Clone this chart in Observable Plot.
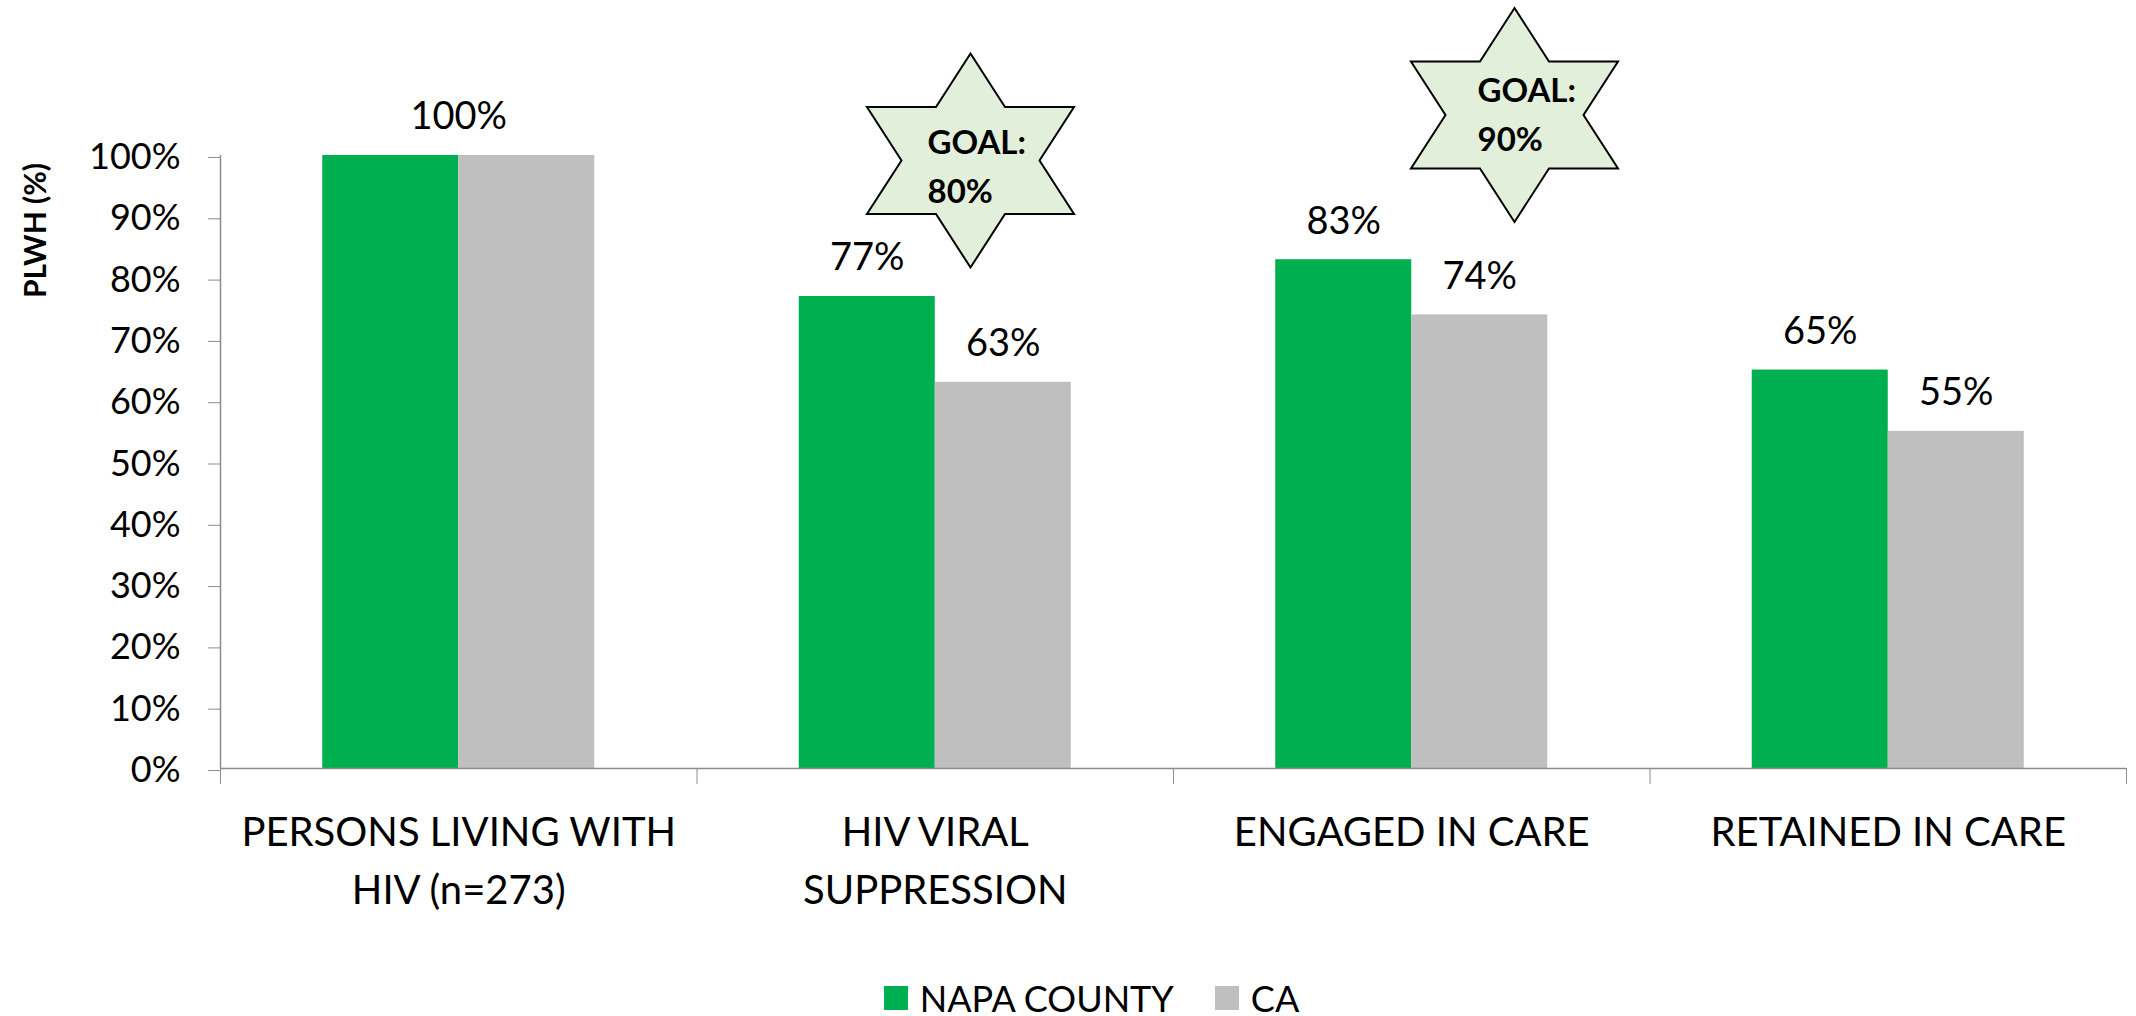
<!DOCTYPE html>
<html>
<head>
<meta charset="utf-8">
<script src="https://cdn.jsdelivr.net/npm/d3@7"></script>
<script src="https://cdn.jsdelivr.net/npm/@observablehq/plot@0.6"></script>
<style>
  html, body { margin: 0; padding: 0; background: #fff; overflow: hidden; }
  body { font-family: Lato, "Open Sans", sans-serif; }
  #legend { display: flex; justify-content: center; align-items: center; height: 36px; line-height: 1; margin-top: 10px; padding-left: 47px; font-size: 36px; color: #000; }
  .item { display: flex; align-items: center; }
  .swatch { width: 24px; height: 24px; margin-right: 12px; }
  .item + .item { margin-left: 41px; }
</style>
</head>
<body>
<div id="chart"></div>
<div id="legend"></div>
<script>
// ---- data ----
const categories = ["PERSONS LIVING WITH HIV (n=273)", "HIV VIRAL SUPPRESSION", "ENGAGED IN CARE", "RETAINED IN CARE"];
const categoryLabels = ["PERSONS LIVING WITH\nHIV (n=273)", "HIV VIRAL\nSUPPRESSION", "ENGAGED IN CARE", "RETAINED IN CARE"];
const napaValues = [100, 77, 83, 65];
const caValues = [100, 63, 74, 55];
const seriesNames = ["NAPA COUNTY", "CA"];
const seriesColors = ["#00B050", "#BFBFBF"];
const goalCategories = ["HIV VIRAL SUPPRESSION", "ENGAGED IN CARE"];
const goalValues = [80, 90];
const yTicks = [0, 10, 20, 30, 40, 50, 60, 70, 80, 90, 100];
const yTitle = "PLWH (%)";

// ---- layout ----
const W = 2136, H = 970;
const mL = 220, mR = 10, mT = 155, mB = 202;
const bw = (W - mL - mR) / categories.length;
const barW = 136;
const axisColor = "#8C8C8C";
const starLayout = [
  {dotDx: 35.25, dotDy: 5, textDx: -7.75, textDy: -35.7},
  {dotDx: 102.75, dotDy: -40.5, textDx: 65.75, textDy: -87.7}
];

const rows = categories.map((c, i) => ({category: c, napa: napaValues[i], ca: caValues[i]}));
const goals = goalCategories.map((c, i) => ({category: c, goal: goalValues[i]}));

const hexagram = {
  draw(ctx, size) {
    const h = Math.sqrt(size / Math.PI);
    const w = h * 209 / 216;
    const pts = [[0, -h], [w / 3, -h / 2], [w, -h / 2], [2 * w / 3, 0], [w, h / 2], [w / 3, h / 2],
                 [0, h], [-w / 3, h / 2], [-w, h / 2], [-2 * w / 3, 0], [-w, -h / 2], [-w / 3, -h / 2]];
    ctx.moveTo(pts[0][0], pts[0][1]);
    for (let k = 1; k < pts.length; ++k) ctx.lineTo(pts[k][0], pts[k][1]);
    ctx.closePath();
  }
};

const starMarks = goals.flatMap((g, i) => [
  Plot.dot([g], {x: "category", frameAnchor: "top", symbol: hexagram, r: 107,
    fill: "#E2EFDA", stroke: "#000", strokeWidth: 2, dx: starLayout[i].dotDx, dy: starLayout[i].dotDy}),
  Plot.text([g], {x: "category", frameAnchor: "top", text: d => `GOAL:\n${d.goal}%`,
    textAnchor: "start", lineAnchor: "top", lineHeight: 1.48, fontSize: 33, fontWeight: "bold",
    fill: "#000", dx: starLayout[i].textDx, dy: starLayout[i].textDy})
]);

const chart = Plot.plot({
  width: W, height: H,
  marginLeft: mL, marginRight: mR, marginTop: mT, marginBottom: mB,
  style: {fontFamily: "Lato, 'Open Sans', sans-serif", background: "#fff", color: "#000", overflow: "visible"},
  x: {type: "band", domain: categories, padding: 0, round: false, axis: null},
  y: {domain: [0, 100], axis: null},
  marks: [
    Plot.barY(rows, {x: "category", y: "napa", fill: seriesColors[0],
      insetLeft: (bw - 2 * barW) / 2, insetRight: bw / 2}),
    Plot.barY(rows, {x: "category", y: "ca", fill: seriesColors[1],
      insetLeft: bw / 2, insetRight: (bw - 2 * barW) / 2}),
    Plot.ruleY([0], {stroke: axisColor, strokeWidth: 1.5}),
    Plot.ruleX([categories[0]], {x: d => d, y1: 0, y2: 100, dx: -bw / 2, stroke: axisColor, strokeWidth: 1.5}),
    Plot.axisY({ticks: yTicks, tickFormat: d => d + "%", tickSize: 12, tickPadding: 28, fontSize: 36,
      stroke: axisColor, fill: "#000", label: null, dy: 2}),
    Plot.axisX({ticks: categories, tickSize: 16, tickFormat: () => "", dx: -bw / 2, stroke: axisColor, label: null}),
    Plot.axisX({ticks: [categories[categories.length - 1]], tickSize: 16, tickFormat: () => "", dx: bw / 2, stroke: axisColor, label: null}),
    Plot.axisX({ticks: categories, tickSize: 0, tickPadding: 36, lineHeight: 1.45, fontSize: 40, fill: "#000",
      tickFormat: d => categoryLabels[categories.indexOf(d)], label: null}),
    Plot.text(rows, {filter: d => d.napa !== d.ca, x: "category", y: "napa", text: d => d.napa + "%",
      dx: -barW / 2, dy: -26, lineAnchor: "bottom", fontSize: 38, fill: "#000"}),
    Plot.text(rows, {filter: d => d.napa !== d.ca, x: "category", y: "ca", text: d => d.ca + "%",
      dx: barW / 2, dy: -26, lineAnchor: "bottom", fontSize: 38, fill: "#000"}),
    Plot.text(rows, {filter: d => d.napa === d.ca, x: "category", y: "napa", text: d => d.napa + "%",
      dy: -27, lineAnchor: "bottom", fontSize: 38, fill: "#000"}),
    Plot.text([yTitle], {frameAnchor: "top-left", textAnchor: "middle", lineAnchor: "middle", rotate: -90,
      dx: -184, dy: 75, fontSize: 30, fontWeight: "bold", fill: "#000"}),
    ...starMarks
  ]
});
document.getElementById("chart").appendChild(chart);

const legend = document.getElementById("legend");
seriesNames.forEach((name, i) => {
  const item = document.createElement("div");
  item.className = "item";
  const sw = document.createElement("div");
  sw.className = "swatch";
  sw.style.background = seriesColors[i];
  const label = document.createElement("span");
  label.textContent = name;
  item.appendChild(sw);
  item.appendChild(label);
  legend.appendChild(item);
});
</script>
</body>
</html>
